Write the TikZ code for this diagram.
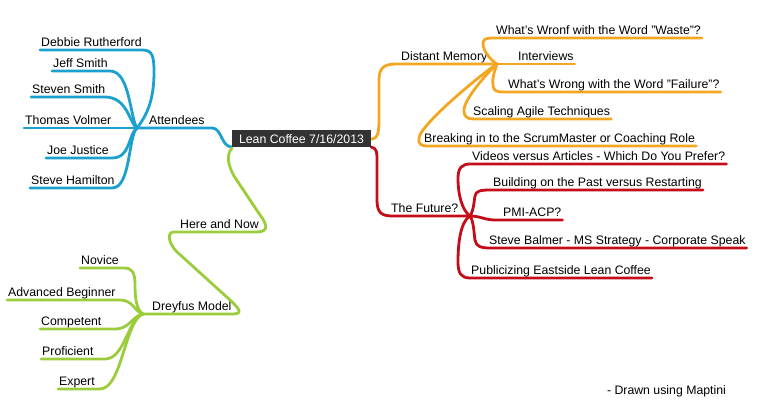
\documentclass[tikz,border=0pt]{standalone}
\usepackage{fontspec}
\setmainfont{Liberation Sans}
\definecolor{cblue}{RGB}{27,160,207}
\definecolor{corange}{RGB}{243,166,33}
\definecolor{cred}{RGB}{196,13,24}
\definecolor{cgreen}{RGB}{154,204,60}
\definecolor{croot}{RGB}{51,51,51}
\begin{document}
\begin{tikzpicture}[x=1pt,y=-1pt,
  every node/.style={font=\fontsize{12.3}{14}\selectfont},
  lbl/.style={inner xsep=1pt,inner ysep=0pt,text height=9pt,text depth=3pt,anchor=south west},
  rootbox/.style={fill=croot,text=white,minimum width=139pt,minimum height=17pt,inner sep=0pt},
  conn/.style={line width=2.8pt,line cap=round,line join=round},
  bl/.style={conn,draw=cblue},
  orn/.style={conn,draw=corange},
  rd/.style={conn,draw=cred},
  gr/.style={conn,draw=cgreen}]
\useasboundingbox (0,0) rectangle (757,411);

% hubs
\coordinate (hubA) at (137,128);
\coordinate (hubO) at (497,64);
\coordinate (hubR) at (470,216);
\coordinate (hubD) at (143,314);

% first level / labels
\node[lbl] (attendees) at (148,128) {Attendees};
\node[lbl] (distant) at (400,64) {Distant Memory};
\node[lbl] (future) at (390,216) {The Future?};
\node[lbl] (herenow) at (179,232) {Here and Now};
\node[lbl] (dreyfus) at (151,314) {Dreyfus Model};

% blue leaves
\node[lbl] (debbie) at (40,50) {Debbie Rutherford};
\node[lbl] (jeff) at (52,71) {Jeff Smith};
\node[lbl] (steven) at (31,97) {Steven Smith};
\node[lbl] (thomas) at (24,128) {Thomas Volmer};
\node[lbl] (joe) at (46,158) {Joe Justice};
\node[lbl] (hamilton) at (30,188) {Steve Hamilton};

% orange leaves
\node[lbl] (waste) at (495,38) {What's Wronf with the Word "Waste"?};
\node[lbl] (interviews) at (517,64) {Interviews};
\node[lbl] (failure) at (507,92) {What's Wrong with the Word "Failure"?};
\node[lbl] (scaling) at (472,119) {Scaling Agile Techniques};
\node[lbl] (breaking) at (423,146) {Breaking in to the ScrumMaster or Coaching Role};

% red leaves
\node[lbl] (videos) at (471,164) {Videos versus Articles - Which Do You Prefer?};
\node[lbl] (building) at (492,190) {Building on the Past versus Restarting};
\node[lbl] (pmi) at (502,220) {PMI-ACP?};
\node[lbl] (balmer) at (488,248) {Steve Balmer - MS Strategy - Corporate Speak};
\node[lbl] (public) at (470,278) {Publicizing Eastside Lean Coffee};

% green leaves
\node[lbl] (novice) at (80,268) {Novice};
\node[lbl] (advbeg) at (7,300) {Advanced Beginner};
\node[lbl] (competent) at (40,329) {Competent};
\node[lbl] (proficient) at (41,359) {Proficient};
\node[lbl] (expert) at (58,389) {Expert};

% blue connectors
\draw[bl] (232,147) .. controls (221,147) and (222,128) .. (212,128) -- (hubA);
\draw[bl] (hubA) .. controls (147,115) and (154,100) .. (154,72) .. controls (154,55) and (152,50) .. (142,50) -- (debbie.south west);
\draw[bl] (hubA) .. controls (130,118) and (130,71) .. (110,71) -- (jeff.south west);
\draw[bl] (hubA) .. controls (130,125) and (128,97) .. (105,97) -- (steven.south west);
\draw[bl] (hubA) -- (thomas.south west);
\draw[bl] (hubA) .. controls (128,134) and (131,158) .. (112,158) -- (joe.south west);
\draw[bl] (hubA) .. controls (128,136) and (131,188) .. (112,188) -- (hamilton.south west);

% orange connectors
\draw[orn] (371,139) .. controls (378,139) and (379,132) .. (379,120) -- (379,80) .. controls (379,68) and (384,64) .. (396,64) -- (hubO);
\draw[orn] (hubO) .. controls (490,60) and (483,50) .. (483,44) .. controls (483,39) and (486,38) .. (492,38) -- (waste.south east);
\draw[orn] (hubO) -- (interviews.south east);
\draw[orn] (hubO) .. controls (494,72) and (492,80) .. (493,86) .. controls (494,91) and (497,92) .. (503,92) -- (failure.south east);
\draw[orn] (hubO) .. controls (485,75) and (464,100) .. (464,110) .. controls (464,117) and (467,119) .. (474,119) -- (scaling.south east);
\draw[orn] (hubO) .. controls (480,75) and (420,125) .. (419,138) .. controls (418,144) and (421,146) .. (428,146) -- (breaking.south east);

% red connectors
\draw[rd] (371,147) .. controls (377,148) and (377,152) .. (377,162) -- (377,200) .. controls (377,212) and (381,216) .. (392,216) -- (hubR);
\draw[rd] (hubR) .. controls (462,210) and (458,195) .. (458,178) .. controls (458,168) and (462,164) .. (470,164) -- (videos.south east);
\draw[rd] (hubR) .. controls (474,210) and (474,200) .. (475,196) .. controls (476,191) and (480,190) .. (490,190) -- (building.south east);
\draw[rd] (hubR) .. controls (480,216) and (485,220) .. (495,220) -- (pmi.south east);
\draw[rd] (hubR) .. controls (474,222) and (474,235) .. (475,240) .. controls (476,246) and (480,248) .. (490,248) -- (balmer.south east);
\draw[rd] (hubR) .. controls (460,222) and (458,245) .. (458,262) .. controls (458,273) and (461,278) .. (470,278) -- (public.south east);

% green connectors
\draw[gr] (232,148) .. controls (226,155) and (228,165) .. (234,176) -- (260,215) .. controls (270,228) and (266,232) .. (256,232) -- (174,232) .. controls (167,232) and (168,242) .. (176,251) -- (230,300) .. controls (243,312) and (241,314) .. (231,314) -- (hubD);
\draw[gr] (hubD) .. controls (137,310) and (135,300) .. (135,285) .. controls (135,272) and (132,268) .. (124,268) -- (novice.south west);
\draw[gr] (hubD) .. controls (135,312) and (133,300) .. (120,300) -- (advbeg.south west);
\draw[gr] (hubD) .. controls (132,316) and (130,329) .. (115,329) -- (competent.south west);
\draw[gr] (hubD) .. controls (128,318) and (125,359) .. (105,359) -- (proficient.south west);
\draw[gr] (hubD) .. controls (125,320) and (122,389) .. (100,389) -- (expert.south west);

% root
\node[rootbox] (root) at (301.5,139) {Lean Coffee 7/16/2013};

\node (credit) at (666.5,391) {- Drawn using Maptini};
\end{tikzpicture}
\end{document}
